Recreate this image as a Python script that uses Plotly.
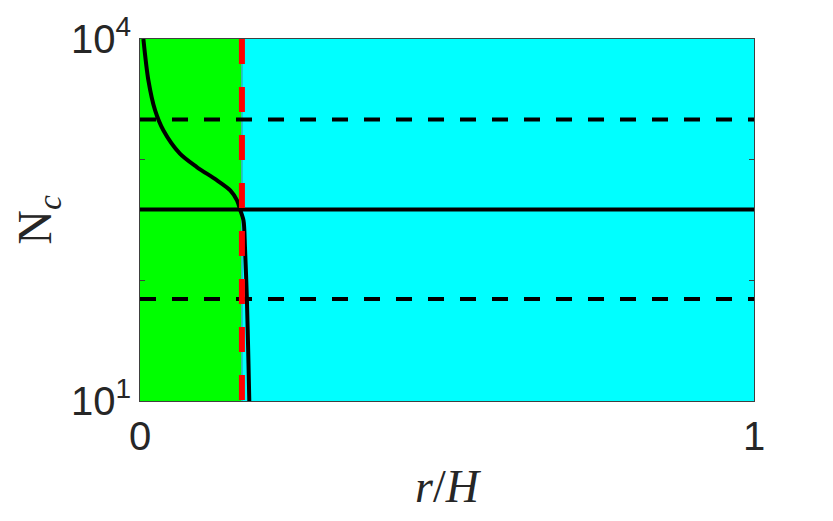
import plotly.graph_objects as go

# curve N_c(r/H)
r_curve = [0.0055, 0.0136, 0.0245, 0.038, 0.065, 0.0925, 0.125, 0.147, 0.158, 0.163, 0.1686, 0.171, 0.174, 0.1767, 0.178]
n_curve = [10000, 4560, 2570, 1753, 1122, 869, 676, 556, 459, 386, 313, 186, 72, 20.4, 10]

# horizontal reference levels
n_mid = 386
n_upper = 2154
n_lower = 70

# region boundary and red marker
r_boundary = 0.165
r_red = 0.166

x_range = [0, 1]
y_range = [10, 10000]
y_tickvals = [10, 100, 1000, 10000]
y_ticktext = ["10<sup>1</sup>", "", "", "10<sup>4</sup>"]
x_tickvals = [0, 1]
x_ticktext = ["0", "1"]

fig = go.Figure()

# background regions
fig.add_shape(type="rect", xref="x", yref="paper", x0=x_range[0], x1=r_boundary, y0=0, y1=1,
              fillcolor="#00ff00", line_width=0, layer="below")
fig.add_shape(type="rect", xref="x", yref="paper", x0=r_boundary, x1=x_range[1], y0=0, y1=1,
              fillcolor="#00ffff", line_width=0, layer="below")

# thin edge where the two regions meet
fig.add_trace(go.Scatter(x=[r_red, r_red], y=y_range, mode="lines",
                         line=dict(color="#2f8f8f", width=1), showlegend=False, hoverinfo="skip"))

# dashed levels
for lvl in [n_upper, n_lower]:
    fig.add_trace(go.Scatter(x=x_range, y=[lvl, lvl], mode="lines",
                             line=dict(color="black", width=4, dash="16px,16px"),
                             showlegend=False, hoverinfo="skip"))

# solid level
fig.add_trace(go.Scatter(x=x_range, y=[n_mid, n_mid], mode="lines",
                         line=dict(color="black", width=4), showlegend=False, hoverinfo="skip"))

# curve
fig.add_trace(go.Scatter(x=r_curve, y=n_curve, mode="lines",
                         line=dict(color="black", width=4, shape="spline", smoothing=0.8),
                         showlegend=False))

# red dashed vertical
fig.add_trace(go.Scatter(x=[r_red, r_red], y=[y_range[1], y_range[0]], mode="lines",
                         line=dict(color="red", width=6, dash="25px,23px"),
                         showlegend=False, hoverinfo="skip"))

fig.update_layout(
    width=825, height=513,
    margin=dict(l=132, r=79, t=31, b=120),
    paper_bgcolor="white",
    plot_bgcolor="white",
    font=dict(family="Liberation Sans, Arial, sans-serif", color="#262626", size=40),
    xaxis=dict(
        range=x_range, tickvals=x_tickvals, ticktext=x_ticktext,
        showgrid=False, zeroline=False, automargin=False,
        showline=True, linecolor="#404040", linewidth=1, mirror=True,
        ticks="", tickfont=dict(size=40),
        title=dict(text="<i>r</i>/<i>H</i>", standoff=12,
                   font=dict(family="Liberation Serif, serif", size=46, color="#262626")),
    ),
    yaxis=dict(
        type="log", range=[1, 4], tickvals=y_tickvals, ticktext=y_ticktext,
        showgrid=False, zeroline=False, automargin=False,
        showline=True, linecolor="#404040", linewidth=1, mirror="ticks",
        ticks="inside", ticklen=5, tickcolor="#404040", tickfont=dict(size=40),
        title=dict(text="N<sub><i>c</i></sub>", standoff=12,
                   font=dict(family="Liberation Serif, serif", size=48, color="#262626")),
    ),
)

fig.write_html("out.html")
